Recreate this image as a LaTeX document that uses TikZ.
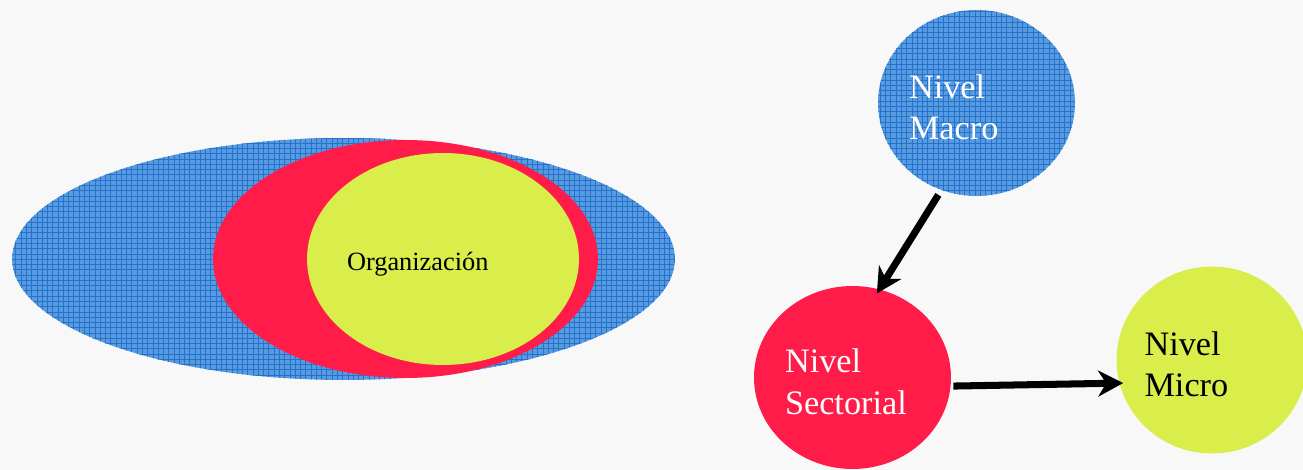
\documentclass[tikz,border=0pt]{standalone}
\usepackage{fontspec}
\setmainfont{Liberation Serif}
\usetikzlibrary{shapes.geometric,arrows.meta,patterns}
\definecolor{azul}{RGB}{88,154,224}
\definecolor{azulosc}{RGB}{36,114,204}
\definecolor{rojo}{RGB}{255,28,72}
\definecolor{amarillo}{RGB}{217,237,75}
\definecolor{fondo}{RGB}{248,248,248}

\begin{document}
\begin{tikzpicture}[x=0.02cm, y=-0.02cm,
    trama/.style={fill=azul, postaction={pattern=grid, pattern color=azulosc}},
    conjunto/.style={ellipse, inner sep=0pt},
    nivel/.style={ellipse, inner sep=0pt, text width=2.7cm, align=left,
      font=\fontsize{19.5}{23.8}\selectfont,
      execute at begin node={\rule{0pt}{18.4pt}}},
    flecha/.style={line width=4pt, -{Stealth[length=0.5cm, width=0.52cm, inset=0.16cm]}}]
  \useasboundingbox (0,0) rectangle (1303,470);
  \fill[fondo] (0,0) rectangle (1303,470);

  % conjuntos anidados
  \node[conjunto, trama, minimum width=13.26cm, minimum height=4.84cm] (entorno) at (343.5,259) {};
  \node[conjunto, fill=rojo, minimum width=7.7cm, minimum height=4.76cm] (sector) at (405.5,259) {};
  \node[conjunto, fill=amarillo, minimum width=5.44cm, minimum height=4.24cm,
    text width=3.84cm, align=left, font=\fontsize{15}{18}\selectfont,
    execute at begin node={\rule{0pt}{16.5pt}}] (organizacion) at (443,259) {Organización};

  % niveles
  \node[nivel, trama, text=white, minimum width=3.94cm, minimum height=3.72cm] (macro) at (976.5,103) {Nivel\\Macro};
  \node[nivel, fill=rojo, text=white, minimum width=3.94cm, minimum height=3.66cm] (sectorial) at (852.5,377.5) {Nivel\\Sectorial};
  \node[nivel, fill=amarillo, minimum width=3.76cm, minimum height=3.74cm] (micro) at (1212,360) {Nivel\\Micro};

  \draw[flecha, shorten <=0.11cm, shorten >=-0.1cm] (macro.-112) -- (sectorial.73);
  \draw[flecha, shorten <=0.05cm, shorten >=-0.08cm] (sectorial.-5) -- (micro.-166);
\end{tikzpicture}
\end{document}
